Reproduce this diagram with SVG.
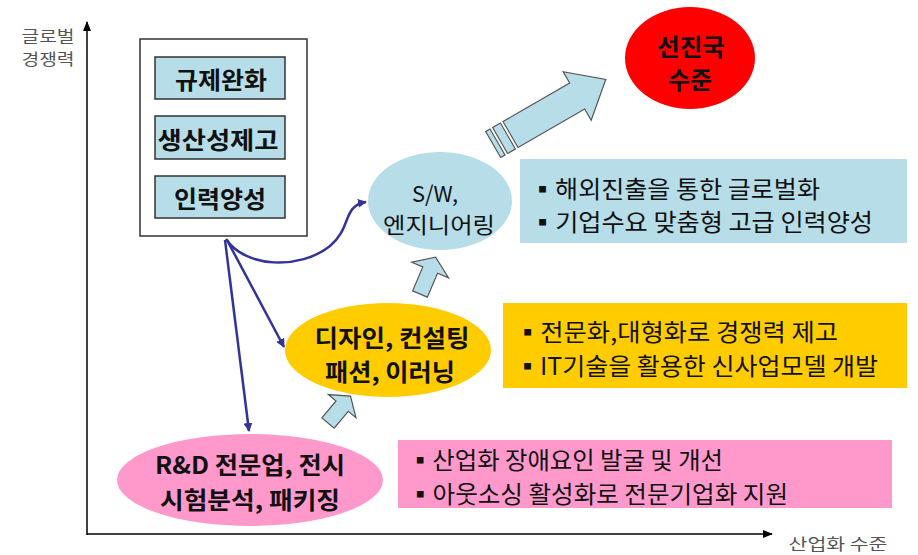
<svg xmlns="http://www.w3.org/2000/svg" width="918" height="555" viewBox="0 0 918 555">
<defs>
<style>
.ko{font-family:"Noto Sans CJK KR","Noto Sans",sans-serif;}
.nb{font-size:24px;font-weight:bold;fill:#111;text-anchor:middle;dominant-baseline:central;}
.lt{font-size:24px;fill:#111;dominant-baseline:central;}
.ax{font-size:16px;fill:#555;text-anchor:middle;dominant-baseline:central;}
.inbox{fill:#B7DEE8;stroke:#333;stroke-width:1.5;}
.blk{fill:#B7DEE8;stroke:#555;stroke-width:1.2;stroke-linejoin:miter;}
.con{fill:none;stroke:#33339A;stroke-width:2.5;}
</style>
<marker id="ah" viewBox="0 0 10 10" refX="9" refY="5" markerWidth="9" markerHeight="9" markerUnits="userSpaceOnUse" orient="auto">
<path d="M0,0 L10,5 L0,10 Z" fill="#33339A"/>
</marker>
<marker id="axh" viewBox="0 0 10 10" refX="9" refY="5" markerWidth="10" markerHeight="10" markerUnits="userSpaceOnUse" orient="auto">
<path d="M0,1 L10,5 L0,9 Z" fill="#000"/>
</marker>
</defs>
<rect width="918" height="555" fill="#fff"/>

<g id="axes">
<line x1="87" y1="535" x2="87" y2="22" stroke="#000" stroke-width="1.5" marker-end="url(#axh)"/>
<line x1="87" y1="534" x2="772" y2="534" stroke="#000" stroke-width="1.5" marker-end="url(#axh)"/>
<text class="ko ax"><tspan x="48" y="35" textLength="53" lengthAdjust="spacingAndGlyphs">글로벌</tspan><tspan x="48" y="58" textLength="53" lengthAdjust="spacingAndGlyphs">경쟁력</tspan></text>
<text class="ko ax" x="838" y="543" textLength="99" lengthAdjust="spacingAndGlyphs">산업화 수준</text>
</g>

<g id="policy-box">
<rect x="140" y="39" width="167" height="197" fill="#fff" stroke="#333" stroke-width="1.5"/>
<rect class="inbox" x="155" y="57" width="130" height="42"/>
<text class="ko nb" x="221" y="78" textLength="92" lengthAdjust="spacingAndGlyphs">규제완화</text>
<rect class="inbox" x="155" y="116" width="130" height="43"/>
<text class="ko nb" x="218" y="138" textLength="121" lengthAdjust="spacingAndGlyphs">생산성제고</text>
<rect class="inbox" x="155" y="176" width="130" height="42"/>
<text class="ko nb" x="220" y="197" textLength="92" lengthAdjust="spacingAndGlyphs">인력양성</text>
</g>

<g id="advanced">
<ellipse cx="690" cy="58" rx="65" ry="51" fill="#FF0000"/>
<text class="ko nb"><tspan x="691" y="45" textLength="68" lengthAdjust="spacingAndGlyphs">선진국</tspan><tspan x="690" y="78" textLength="44" lengthAdjust="spacingAndGlyphs">수준</tspan></text>
</g>

<g id="big-arrow" transform="translate(510.5,134.5) rotate(-30)">
<polygon class="blk" points="0,-15 77,-15 77,-28 110,0 77,28 77,15 0,15"/>
<rect class="blk" x="-12" y="-15" width="9" height="30"/>
<rect class="blk" x="-20" y="-15" width="5" height="30"/>
</g>

<g id="sw">
<ellipse cx="440" cy="201" rx="72" ry="49" fill="#B7DEE8"/>
<text class="ko nb" style="font-weight:normal;font-size:22px"><tspan x="435" y="192" textLength="46" lengthAdjust="spacingAndGlyphs">S/W,</tspan><tspan x="439" y="223" textLength="112" lengthAdjust="spacingAndGlyphs">엔지니어링</tspan></text>
</g>

<g id="sw-note">
<rect x="520" y="159" width="387" height="84" fill="#B7DEE8"/>
<text class="ko lt"><tspan x="530" y="187" textLength="290" lengthAdjust="spacingAndGlyphs">▪해외진출을 통한 글로벌화</tspan><tspan x="530" y="220" textLength="343" lengthAdjust="spacingAndGlyphs">▪기업수요 맞춤형 고급 인력양성</tspan></text>
</g>

<g id="design">
<ellipse cx="388" cy="350" rx="103" ry="47" fill="#FFCC00"/>
<text class="ko nb"><tspan x="392" y="336" textLength="155" lengthAdjust="spacingAndGlyphs">디자인, 컨설팅</tspan><tspan x="390" y="370" textLength="130" lengthAdjust="spacingAndGlyphs">패션, 이러닝</tspan></text>
</g>

<g id="design-note">
<rect x="503" y="303" width="404" height="85" fill="#FFCC00"/>
<text class="ko lt"><tspan x="515" y="330" textLength="323" lengthAdjust="spacingAndGlyphs">▪전문화,대형화로 경쟁력 제고</tspan><tspan x="515" y="364" textLength="363" lengthAdjust="spacingAndGlyphs">▪IT기술을 활용한 신사업모델 개발</tspan></text>
</g>

<g id="rnd">
<ellipse cx="250" cy="480" rx="133" ry="46" fill="#FF99CC"/>
<text class="ko nb"><tspan x="250" y="463" textLength="190" lengthAdjust="spacingAndGlyphs">R&amp;D 전문업, 전시</tspan><tspan x="250" y="498" textLength="180" lengthAdjust="spacingAndGlyphs">시험분석, 패키징</tspan></text>
</g>

<g id="rnd-note">
<rect x="398" y="440" width="494" height="68" fill="#FF99CC"/>
<text class="ko lt"><tspan x="408" y="458" textLength="315" lengthAdjust="spacingAndGlyphs">▪산업화 장애요인 발굴 및 개선</tspan><tspan x="408" y="492" textLength="380" lengthAdjust="spacingAndGlyphs">▪아웃소싱 활성화로 전문기업화 지원</tspan></text>
</g>

<g id="step-arrows">
<g transform="translate(420,294) rotate(-67)">
<polygon class="blk" points="0,-8 26,-8 26,-20 40,0 26,20 26,8 0,8"/>
</g>
<g transform="translate(328,423) rotate(-50)">
<polygon class="blk" points="0,-8 22,-8 22,-18 35,0 22,18 22,8 0,8"/>
</g>
</g>

<g id="connectors">
<path class="con" d="M226,239 C245,268 300,270 330,246 C352,228 342,206 366,202" marker-end="url(#ah)"/>
<line class="con" x1="227" y1="240" x2="284" y2="347" marker-end="url(#ah)"/>
<line class="con" x1="225" y1="240" x2="249" y2="431" marker-end="url(#ah)"/>
</g>
</svg>
